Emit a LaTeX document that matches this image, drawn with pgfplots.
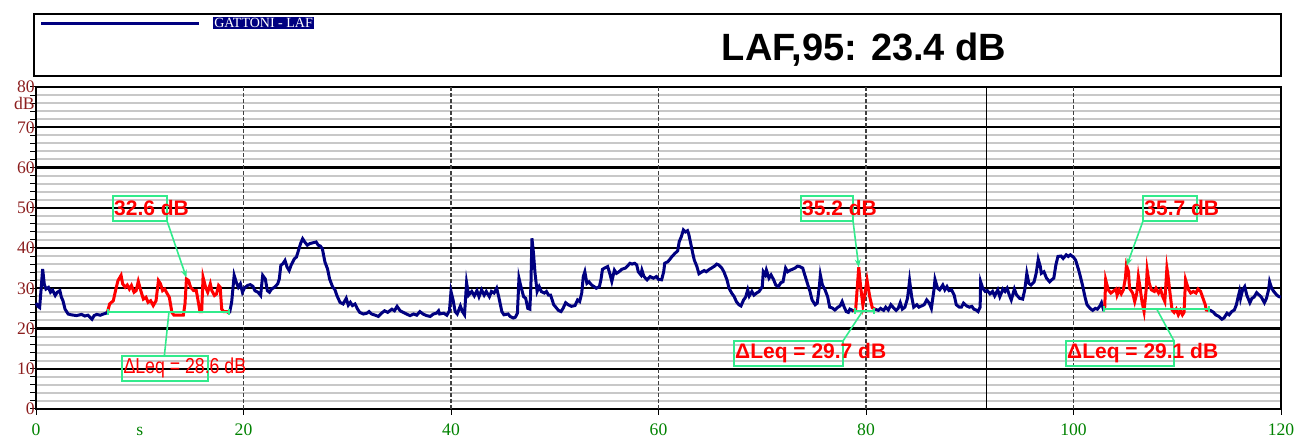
\documentclass[border=0pt]{standalone}
\usepackage{pgfplots}
\pgfplotsset{compat=1.18}
\usepackage{fontspec}
\setmainfont{Liberation Serif}
\newfontfamily\arial{Liberation Sans}
\newfontfamily\narrowsans[FakeStretch=0.82]{Liberation Sans}
\usetikzlibrary{arrows.meta}
\definecolor{navyc}{RGB}{0,0,128}
\definecolor{tickred}{RGB}{140,30,30}
\definecolor{tickgreen}{RGB}{0,130,0}
\definecolor{annogreen}{RGB}{50,235,140}
\definecolor{minorgray}{RGB}{200,200,200}
\tikzset{
  anno/.style={font=\arial\bfseries\fontsize{10.5}{10.5}\selectfont, text=red, anchor=west, inner sep=0pt},
  annonarrow/.style={font=\narrowsans\fontsize{10.8}{10.8}\selectfont, text=red, anchor=west, inner sep=0pt},
  abox/.style={draw=annogreen, line width=0.7pt},
  aline/.style={draw=annogreen, line width=0.8pt},
  barl/.style={draw=annogreen, line width=1pt, {Bar[width=3pt]}-{Bar[width=3pt]}}
}
\begin{document}
\begin{tikzpicture}
\useasboundingbox (0,0) rectangle (647.5pt,218.5pt);
\begin{axis}[
  at={(18pt,14pt)}, anchor=south west,
  scale only axis, width=622.5pt, height=161pt,
  xmin=0, xmax=120, ymin=0, ymax=80,
  clip=false,
  axis line style={black, line width=0.7pt},
  xtick={0,20,...,120}, ytick={0,10,...,80}, minor ytick={2,4,...,78},
  tick align=outside, tick pos=left,
  major tick length=3pt, minor tick length=3pt,
  tick style={black, line width=0.5pt},
  ymajorgrids, yminorgrids,
  major grid style={black, line width=1.1pt},
  minor grid style={minorgray, line width=1pt},
  extra x ticks={20,40,60,80,100}, extra x tick labels={},
  extra x tick style={grid=major, major grid style={gray!50!black, dash pattern=on 2pt off 1pt, line width=0.6pt}},
  extra y ticks={76}, extra y tick labels={dB},
  extra y tick style={grid=none},
  /pgf/number format/assume math mode=true,
  xticklabel style={font=\fontsize{8.8}{8.8}\selectfont, text=tickgreen, inner sep=0pt, anchor=base, yshift=-10.5pt},
  yticklabel style={font=\fontsize{8.8}{8.8}\selectfont, text=tickred, inner sep=0pt, anchor=east, xshift=2.5pt},
]
\draw[black, line width=0.5pt] (axis cs:91.65,0) -- (axis cs:91.65,80);
% blue segments
\addplot[navyc, line width=1.5pt, forget plot] coordinates {
(0,26.3)(0.2,25.5)(0.35,25.2)(0.5,30)(0.64,34.8)(0.8,31)(0.96,29.8)(1.2,30.2)(1.4,29)(1.6,29.5)(1.85,28.2)(2.05,29)(2.3,29.4)(2.45,27.75)(2.6,26.9)(2.8,24.8)(3.1,23.6)(3.4,23.4)(3.9,23.2)(4.4,23.5)(4.7,23.1)(5.0,23.3)(5.4,22.3)(5.6,23.2)(5.85,23.5)(6.2,23.3)(6.5,23.6)(6.75,23.8)(6.9,24.2)
};
\addplot[navyc, line width=1.5pt, forget plot] coordinates {
(18.65,23.8)(18.86,26.6)(19.1,33.2)(19.3,31.5)(19.5,30.25)(19.7,31.1)(19.9,29)(20.1,30.1)(20.4,30.7)(20.65,30.9)(20.9,30.5)(21.1,29.4)(21.4,29)(21.65,28.2)(21.85,33.2)(22.1,32.3)(22.3,29.4)(22.5,29)(22.7,29.8)(23.0,30.25)(23.3,31.1)(23.45,32.3)(23.6,35.7)(23.8,36.1)(24.0,36.9)(24.2,35.25)(24.4,34.4)(24.6,35.8)(24.9,37.3)(25.1,37.75)(25.3,39.4)(25.5,41.1)(25.7,42.3)(25.9,41.5)(26.15,40.7)(26.4,41.1)(26.7,41.3)(27.0,41.5)(27.2,40.7)(27.4,40.5)(27.6,39.8)(27.85,36.5)(28.1,34.8)(28.3,32.3)(28.6,30.25)(28.8,29.7)(29.0,28.2)(29.3,26.5)(29.6,26.1)(29.9,27.5)(30.1,25.8)(30.3,26.5)(30.5,25.7)(30.75,26.1)(31.0,24.8)(31.2,24)(31.55,23.6)(31.9,23.8)(32.1,24.2)(32.35,23.6)(32.7,23.3)(33.0,23)(33.3,23.8)(33.6,24.4)(33.9,24)(34.3,24.8)(34.55,24.4)(34.8,25.5)(35.1,24.4)(35.4,24)(35.7,23.6)(36.05,23.2)(36.4,23.6)(36.7,23.3)(37.0,24.2)(37.3,23.6)(37.65,23.2)(38.0,23)(38.3,23.6)(38.6,23.8)(38.8,24.4)(38.9,23.6)(39.3,23.8)(39.6,23.3)(39.85,24.4)
(40.0,29.2)(40.2,27.1)(40.4,24.2)(40.6,23.6)(40.9,25.6)(41.1,24.2)(41.3,23.4)(41.5,31.4)(41.7,28.3)(42.0,29.2)(42.25,28.1)(42.5,29.4)(42.7,27.9)(42.95,29.6)(43.2,28.3)(43.4,29.2)(43.7,27.9)(43.9,29.2)(44.15,28.8)(44.4,30)(44.6,27.9)(44.9,24.2)(45.1,23.4)(45.5,23.6)(45.7,23)(46.0,22.6)(46.2,22.8)(46.4,23.8)(46.55,32.5)(46.7,30.8)(47.0,27.9)(47.2,27.5)(47.4,25)(47.6,24.8)(47.7,30.4)(47.8,42.4)(47.95,38.7)(48.1,33.7)(48.3,29.2)(48.5,30.4)(48.7,29.2)(49.0,28.8)(49.2,29.2)(49.4,28.3)(49.6,28.3)(49.9,25.9)(50.1,25.3)(50.35,24.5)(50.6,24.2)(50.8,25)(51.05,26.4)(51.3,25.9)(51.6,25.5)(51.95,25.7)(52.2,27.1)(52.4,26.7)(52.6,28.8)(52.75,32.9)(52.9,34.1)(53.1,31.2)(53.3,31.6)(53.55,30.8)(53.8,30.4)(54.0,30)(54.3,30.4)(54.45,32.1)(54.6,34.7)(54.8,35)(55.1,35.4)(55.3,33.7)(55.5,31.7)(55.75,34.5)(55.95,33.7)(56.2,34.1)(56.45,34.7)(56.8,35)(57.0,35.5)(57.25,36.2)(57.45,36.0)(57.7,36.2)(57.9,35.8)(58.05,34.1)(58.3,33.3)(58.4,34.5)(58.6,32.9)(58.9,32.1)(59.2,32.9)(59.5,32.5)(59.8,32.9)(60.0,32.2)
(60.3,32.1)(60.5,34.1)(60.6,36.2)(60.9,36.6)(61.1,37.2)(61.3,37.9)(61.6,38.7)(61.85,39.3)(62.0,41.6)(62.2,42.8)(62.4,44.5)(62.6,44.0)(62.8,44.3)(62.9,43.6)(63.1,41.2)(63.3,38.7)(63.45,37)(63.7,35.4)(63.9,33.6)(64.2,34.1)(64.4,34.4)(64.6,34.1)(64.9,34.7)(65.1,35)(65.4,35.5)(65.6,36)(65.8,35.8)(66.1,35)(66.3,34.1)(66.6,32.1)(66.8,30)(67.05,28.8)(67.3,27.9)(67.5,26.7)(67.75,25.9)(67.95,25.6)(68.2,27.1)(68.4,27.8)(68.6,29.6)(68.75,28.1)(69.0,29.2)(69.2,28.3)(69.45,28.8)(69.7,29.2)(70.0,30.4)(70.1,34.1)(70.3,33.3)(70.4,34.5)(70.65,32.5)(70.85,33.3)(71.1,32.1)(71.3,30.8)(71.55,30.4)(71.8,31.4)(72.0,31.6)(72.25,35)(72.45,34.1)(72.7,34.5)(72.9,34.7)(73.15,35)(73.4,35.5)(73.6,35.4)(73.9,35)(74.1,33.3)(74.4,30.8)(74.6,29.2)(74.8,27.1)(75.1,25.9)(75.3,26.3)(75.5,30.4)(75.6,33.3)(75.8,30.8)(76.05,29.6)(76.3,27.9)(76.5,25.3)(76.75,25.1)(77.0,24.6)(77.3,25.3)(77.5,25.6)(77.7,26.7)(77.9,25.3)(78.1,24.2)(78.3,24)(78.45,24.8)(78.7,24.5)(78.8,24.2)
};
\addplot[navyc, line width=1.5pt, forget plot] coordinates {
(80.87,24.8)(81.2,24.5)(81.4,25)(81.7,24.5)(81.9,25.3)(82.15,24.6)(82.4,25.9)(82.6,25.3)(82.9,24.5)(83.1,25)(83.3,26.4)(83.5,24.8)(83.75,25.3)(84.0,27.5)(84.2,31.9)(84.4,27.9)(84.6,25.3)(84.9,25.9)(85.1,25.3)(85.35,25.6)(85.6,25.9)(85.85,27.1)(86.1,26.3)(86.3,25)(86.55,29.6)(86.65,32.2)(86.9,30)(87.1,29.6)(87.4,30.8)(87.6,29.6)(87.8,30.4)(88.0,29.4)(88.25,29.6)(88.5,28.3)(88.7,25.9)(89.0,25.3)(89.2,25.3)(89.4,26.3)(89.7,25.6)(89.96,25.3)(90.2,25.5)(90.4,24.8)(90.6,24.6)(90.8,24.2)(91.0,25.3)(91.05,31.6)(91.25,30)(91.5,29.2)(91.7,29.4)(91.95,28.6)(92.2,29.2)(92.4,28.1)(92.7,29.6)(92.9,27.9)(93.2,29.8)(93.4,29.2)(93.6,30)(93.8,28.4)(94.0,27.1)(94.3,29.8)(94.5,28.4)(94.8,27.5)(95.1,27.3)(95.3,29.6)(95.5,33.7)(95.7,31.2)(95.9,30.8)(96.2,31.6)(96.4,33.7)(96.6,37.2)(96.8,35.4)(96.9,33.7)(97.15,34.1)(97.4,32.5)(97.7,31.6)(97.9,32.1)(98.1,32.5)(98.3,35.8)(98.5,37.9)(98.8,38)(99.0,37.4)(99.3,38.3)(99.5,37.9)(99.7,38.3)(100.0,37.7)(100.2,37)(100.5,34.5)(100.7,32.5)(100.9,30.4)(101.1,27.9)(101.3,25.9)(101.6,25)(101.85,24.5)(102.1,25)(102.3,24.8)(102.55,25.6)(102.7,26.4)(102.9,24.6)(103.0,24.6)
};
\addplot[navyc, line width=1.5pt, forget plot] coordinates {
(113.0,24.5)(113.2,24.5)(113.5,24)(113.7,23.4)(114.0,23)(114.3,22.3)(114.5,22.6)(114.8,23.8)(115.0,23.4)(115.25,24.2)(115.5,24.6)(115.7,25.9)(115.8,27.1)(116.0,29.2)(116.1,27.5)(116.3,29.6)(116.5,30.4)(116.7,28.3)(117.0,26.4)(117.2,27.5)(117.4,27.8)(117.65,28.9)(117.9,28.3)(118.1,27.8)(118.4,26.4)(118.6,27.5)(118.8,29.6)(118.9,31.6)(119.1,30)(119.3,29.2)(119.6,28.3)(119.8,27.9)(120.0,27.8)
};
% red segments
\addplot[red, line width=1.5pt, forget plot] coordinates {
(6.9,24.2)(7.1,26.1)(7.45,26.9)(7.7,29.8)(7.9,31.9)(8.2,33.2)(8.35,31.1)(8.6,30.25)(8.8,30.8)(9.0,29.8)(9.2,30.7)(9.45,29)(9.65,29.4)(9.86,31.7)(10.1,29.4)(10.35,27.3)(10.6,27.75)(10.8,26.5)(11.05,26.9)(11.3,25.7)(11.57,26.9)(11.8,31.9)(12.0,31.1)(12.2,29.4)(12.4,29.8)(12.66,28.6)(12.85,27.75)(13.1,24)(13.3,23.3)(13.7,23.3)(14.2,23.3)(14.36,26.1)(14.5,32.3)(14.7,31.9)(14.9,30.25)(15.2,29.4)(15.45,29.4)(15.65,26.5)(15.8,24.2)(15.97,24.2)(16.1,32.75)(16.35,30.25)(16.55,29)(16.8,31.1)(16.95,29.4)(17.2,28.2)(17.4,28.6)(17.6,30.7)(17.75,30.25)(17.9,24.8)(18.1,24.2)(18.4,24.2)(18.65,23.8)
};
\addplot[red, line width=1.5pt, forget plot] coordinates {
(78.8,24.2)(79.0,24.6)(79.3,35.2)(79.5,30)(79.7,25.8)(79.85,28)(80.1,32)(80.35,28)(80.6,25.2)(80.87,24.8)
};
\addplot[red, line width=1.5pt, forget plot] coordinates {
(103.0,24.6)(103.1,32.1)(103.35,29.6)(103.6,28.8)(103.8,29.2)(104.1,29.8)(104.2,28.3)(104.4,29.6)(104.6,28.6)(104.8,29.6)(105.0,32.5)(105.1,35.7)(105.3,34.1)(105.4,30)(105.7,28.8)(105.9,26.7)(106.1,28.8)(106.25,32.9)(106.4,30.4)(106.6,26.7)(106.8,24.2)(107.0,29.6)(107.1,34.5)(107.3,31.2)(107.5,29.6)(107.8,29.2)(107.95,30)(108.2,28.8)(108.4,29.6)(108.6,27.9)(108.8,26.7)(109.0,35)(109.1,33.3)(109.3,28.8)(109.5,24.6)(109.7,24)(109.9,24.8)(110.1,23.4)(110.3,24.5)(110.5,23.4)(110.65,24)(110.8,32.1)(111.1,29.6)(111.3,28.8)(111.55,29.2)(111.8,28.8)(112.0,29.8)(112.25,29.2)(112.4,28.1)(112.7,25.9)(112.8,24.6)(113.0,24.5)
};
% Leq baselines
\draw[barl] (axis cs:6.8,24.2) -- (axis cs:18.7,24.2);
\draw[barl] (axis cs:78.8,24.35) -- (axis cs:80.9,24.35);
\draw[barl] (axis cs:102.8,24.84) -- (axis cs:113.16,24.84);
% annotation 1
\draw[abox] (axis cs:7.42,46.71) rectangle (axis cs:12.63,52.92);
\node[anno] at (axis cs:7.5,49.94) {32.6 dB};
\draw[aline, -{Stealth[length=4pt,width=3pt]}] (axis cs:12.63,46.71) -- (axis cs:14.5,32.6);
\draw[abox] (axis cs:8.29,6.96) rectangle (axis cs:16.58,13.17);
\node[annonarrow] at (axis cs:8.4,10.19) {ΔLeq = 28.6 dB};
\draw[aline] (axis cs:12.37,13.17) -- (axis cs:12.82,24.2);
% annotation 2
\draw[abox] (axis cs:73.73,46.71) rectangle (axis cs:78.75,52.92);
\node[anno] at (axis cs:73.8,49.94) {35.2 dB};
\draw[aline, -{Stealth[length=4pt,width=3pt]}] (axis cs:78.75,46.71) -- (axis cs:79.3,35.2);
\draw[abox] (axis cs:67.28,10.68) rectangle (axis cs:77.78,16.89);
\node[anno] at (axis cs:67.35,13.79) {ΔLeq = 29.7 dB};
\draw[aline] (axis cs:77.78,16.89) -- (axis cs:79.68,24.35);
% annotation 3
\draw[abox] (axis cs:106.7,46.71) rectangle (axis cs:111.9,52.92);
\node[anno] at (axis cs:106.8,49.94) {35.7 dB};
\draw[aline, -{Stealth[length=4pt,width=3pt]}] (axis cs:106.7,46.71) -- (axis cs:105.13,35.6);
\draw[abox] (axis cs:99.28,10.68) rectangle (axis cs:109.69,16.89);
\node[anno] at (axis cs:99.35,13.79) {ΔLeq = 29.1 dB};
\draw[aline] (axis cs:109.69,16.89) -- (axis cs:108.02,24.84);
% x unit
\node[font=\fontsize{8.8}{8.8}\selectfont, text=tickgreen, anchor=base, inner sep=0pt] at ([yshift=-13.5pt]axis cs:10,0) {s};
\end{axis}
% header box (pixel coordinates of the reference)
\begin{scope}[x=0.5pt, y=-0.5pt, shift={(0pt,218.5pt)}]
\draw[black, line width=0.7pt] (34,14) rectangle (1281,76);
\draw[navyc, line width=1.5pt] (41,23.3) -- (199,23.3);
\node[fill=navyc, text=white, anchor=west, inner sep=0.6pt, font=\fontsize{7}{7}\selectfont] at (212.7,23) {GATTONI - LAF};
\node[font=\arial\bfseries\fontsize{19}{19}\selectfont, anchor=center] at (864,50) {LAF,95: 23.4 dB};
\end{scope}
\end{tikzpicture}
\end{document}
